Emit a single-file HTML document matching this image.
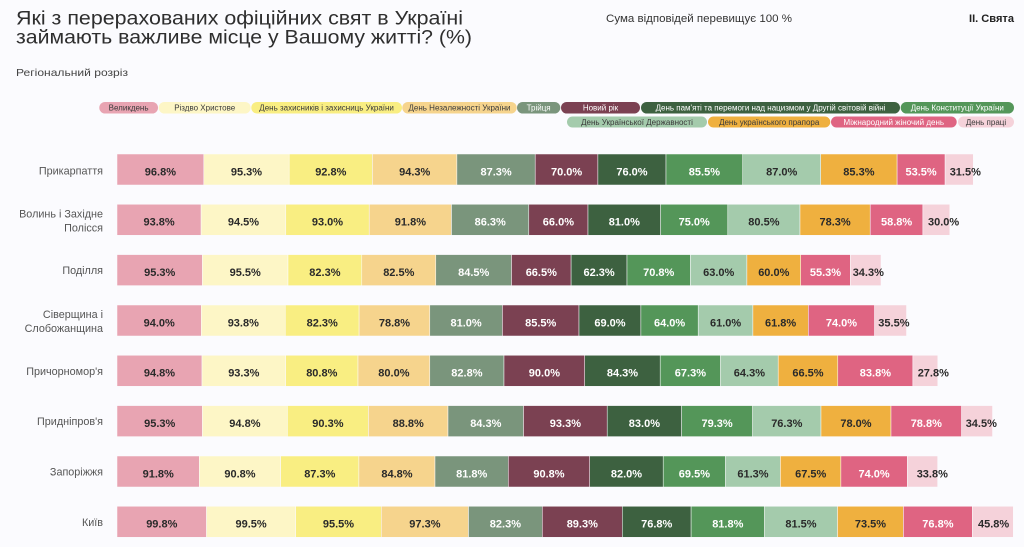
<!DOCTYPE html>
<html>
<head>
<meta charset="utf-8">
<style>
html,body{margin:0;padding:0;background:#fbfbfe;}
svg{display:block;}
.t{font-family:"Liberation Sans",sans-serif;}
.v{font-family:"Liberation Sans",sans-serif;font-size:11px;font-weight:bold;text-anchor:middle;fill:#2a2a2a;}
.w{fill:#ffffff;}
.s{text-anchor:start;}
.rl{font-family:"Liberation Sans",sans-serif;font-size:10.8px;fill:#555;text-anchor:end;}
.lg{font-family:"Liberation Sans",sans-serif;font-size:8px;text-anchor:middle;fill:#3a3a3a;}
.lw{fill:#ffffff;}
</style>
</head>
<body>
<svg width="1024" height="547" viewBox="0 0 1024 547" xmlns="http://www.w3.org/2000/svg">
<rect x="0" y="0" width="1024" height="547" fill="#fbfbfe"/>
<!-- Title -->
<text class="t" x="16" y="24.5" font-size="19" fill="#2e2e2e" textLength="447" lengthAdjust="spacingAndGlyphs">Які з перерахованих офіційних свят в Україні</text>
<text class="t" x="16" y="43.5" font-size="19" fill="#2e2e2e" textLength="456" lengthAdjust="spacingAndGlyphs">займають важливе місце  у Вашому житті? (%)</text>
<text class="t" x="16" y="76" font-size="10.5" fill="#444" textLength="112" lengthAdjust="spacingAndGlyphs">Регіональний розріз</text>
<text class="t" x="606" y="22" font-size="11" fill="#333" textLength="186" lengthAdjust="spacingAndGlyphs">Сума відповідей перевищує 100 %</text>
<text class="t" x="969" y="22" font-size="11" font-weight="bold" fill="#222" textLength="45" lengthAdjust="spacingAndGlyphs">II. Свята</text>

<!-- Legend row 1 -->
<g>
<rect x="99.3" y="102" width="58.7" height="11.5" rx="5.75" fill="#e8a4b2"/>
<text class="lg" x="128.6" y="110.7">Великдень</text>
<rect x="158.7" y="102" width="92" height="11.5" rx="5.75" fill="#fdf6c6"/>
<text class="lg" x="204.7" y="110.7">Різдво Христове</text>
<rect x="251.3" y="102" width="150.7" height="11.5" rx="5.75" fill="#f9ee82"/>
<text class="lg" x="326.6" y="110.7">День захисників і захисниць України</text>
<rect x="402.3" y="102" width="114.4" height="11.5" rx="5.75" fill="#f6d48d"/>
<text class="lg" x="459.5" y="110.7">День Незалежності України</text>
<rect x="517" y="102" width="43.3" height="11.5" rx="5.75" fill="#7a957c"/>
<text class="lg lw" x="538.6" y="110.7">Трійця</text>
<rect x="561" y="102" width="79" height="11.5" rx="5.75" fill="#7b4152"/>
<text class="lg lw" x="600.5" y="110.7">Новий рік</text>
<rect x="641" y="102" width="259" height="11.5" rx="5.75" fill="#3d6140"/>
<text class="lg lw" x="770.5" y="110.7">День пам'яті та перемоги над нацизмом у Другій світовій війні</text>
<rect x="900.7" y="102" width="113.3" height="11.5" rx="5.75" fill="#549659"/>
<text class="lg lw" x="957.3" y="110.7">День Конституції України</text>
</g>
<!-- Legend row 2 -->
<g>
<rect x="567" y="116.5" width="140" height="11" rx="5.5" fill="#a4cbac"/>
<text class="lg" x="637" y="125">День Української Державності</text>
<rect x="708" y="116.5" width="122.3" height="11" rx="5.5" fill="#efb03f"/>
<text class="lg" x="769.2" y="125">День українського прапора</text>
<rect x="831" y="116.5" width="125.7" height="11" rx="5.5" fill="#df6482"/>
<text class="lg lw" x="893.8" y="125">Міжнародний жіночий день</text>
<rect x="958" y="116.5" width="56" height="11" rx="5.5" fill="#f5d2da"/>
<text class="lg" x="986" y="125">День праці</text>
</g>

<!-- Row labels -->
<text class="rl" x="103" y="174.5">Прикарпаття</text>
<text class="rl" x="103" y="217.5">Волинь і Західне</text>
<text class="rl" x="103" y="231.5">Полісся</text>
<text class="rl" x="103" y="274">Поділля</text>
<text class="rl" x="103" y="318">Сіверщина і</text>
<text class="rl" x="103" y="332">Слобожанщина</text>
<text class="rl" x="103" y="374.8">Причорномор'я</text>
<text class="rl" x="103" y="425">Придніпров'я</text>
<text class="rl" x="103" y="475.5">Запоріжжя</text>
<text class="rl" x="103" y="526">Київ</text>

<!-- Row 1 -->
<g stroke="#fbfbfe" stroke-width="0.5">
<rect x="117" y="154" width="86.8" height="31" fill="#e8a4b2"/>
<rect x="203.8" y="154" width="85.4" height="31" fill="#fdf6c6"/>
<rect x="289.2" y="154" width="83.2" height="31" fill="#f9ee82"/>
<rect x="372.4" y="154" width="84.5" height="31" fill="#f6d48d"/>
<rect x="456.9" y="154" width="78.3" height="31" fill="#7a957c"/>
<rect x="535.2" y="154" width="62.7" height="31" fill="#7b4152"/>
<rect x="597.9" y="154" width="68.1" height="31" fill="#3d6140"/>
<rect x="666.0" y="154" width="76.7" height="31" fill="#549659"/>
<rect x="742.7" y="154" width="78.0" height="31" fill="#a4cbac"/>
<rect x="820.7" y="154" width="76.4" height="31" fill="#efb03f"/>
<rect x="897.1" y="154" width="48.0" height="31" fill="#df6482"/>
<rect x="945.1" y="154" width="28.2" height="31" fill="#f5d2da"/>
</g>
<g>
<text class="v" x="160.4" y="175.3">96.8%</text>
<text class="v" x="246.5" y="175.3">95.3%</text>
<text class="v" x="330.8" y="175.3">92.8%</text>
<text class="v" x="414.7" y="175.3">94.3%</text>
<text class="v w" x="496.1" y="175.3">87.3%</text>
<text class="v w" x="566.6" y="175.3">70.0%</text>
<text class="v w" x="632.0" y="175.3">76.0%</text>
<text class="v w" x="704.4" y="175.3">85.5%</text>
<text class="v" x="781.7" y="175.3">87.0%</text>
<text class="v" x="858.9" y="175.3">85.3%</text>
<text class="v w" x="921.1" y="175.3">53.5%</text>
<text class="v s" x="949.7" y="175.3">31.5%</text>
</g>

<!-- Row 2 -->
<g stroke="#fbfbfe" stroke-width="0.5">
<rect x="117" y="204.3" width="84.1" height="31" fill="#e8a4b2"/>
<rect x="201.1" y="204.3" width="84.7" height="31" fill="#fdf6c6"/>
<rect x="285.8" y="204.3" width="83.4" height="31" fill="#f9ee82"/>
<rect x="369.2" y="204.3" width="82.3" height="31" fill="#f6d48d"/>
<rect x="451.5" y="204.3" width="77.3" height="31" fill="#7a957c"/>
<rect x="528.8" y="204.3" width="59.2" height="31" fill="#7b4152"/>
<rect x="588.0" y="204.3" width="72.6" height="31" fill="#3d6140"/>
<rect x="660.6" y="204.3" width="67.2" height="31" fill="#549659"/>
<rect x="727.8" y="204.3" width="72.2" height="31" fill="#a4cbac"/>
<rect x="800.0" y="204.3" width="70.2" height="31" fill="#efb03f"/>
<rect x="870.2" y="204.3" width="52.7" height="31" fill="#df6482"/>
<rect x="922.9" y="204.3" width="26.9" height="31" fill="#f5d2da"/>
</g>
<g>
<text class="v" x="159.1" y="225.6">93.8%</text>
<text class="v" x="243.5" y="225.6">94.5%</text>
<text class="v" x="327.5" y="225.6">93.0%</text>
<text class="v" x="410.4" y="225.6">91.8%</text>
<text class="v w" x="490.2" y="225.6">86.3%</text>
<text class="v w" x="558.4" y="225.6">66.0%</text>
<text class="v w" x="624.3" y="225.6">81.0%</text>
<text class="v w" x="694.2" y="225.6">75.0%</text>
<text class="v" x="763.9" y="225.6">80.5%</text>
<text class="v" x="835.1" y="225.6">78.3%</text>
<text class="v w" x="896.6" y="225.6">58.8%</text>
<text class="v s" x="928" y="225.6">30.0%</text>
</g>

<!-- Row 3 -->
<g stroke="#fbfbfe" stroke-width="0.5">
<rect x="117" y="254.6" width="85.4" height="31" fill="#e8a4b2"/>
<rect x="202.4" y="254.6" width="85.6" height="31" fill="#fdf6c6"/>
<rect x="288.0" y="254.6" width="73.8" height="31" fill="#f9ee82"/>
<rect x="361.8" y="254.6" width="74.0" height="31" fill="#f6d48d"/>
<rect x="435.8" y="254.6" width="75.7" height="31" fill="#7a957c"/>
<rect x="511.5" y="254.6" width="59.6" height="31" fill="#7b4152"/>
<rect x="571.1" y="254.6" width="55.9" height="31" fill="#3d6140"/>
<rect x="627.0" y="254.6" width="63.4" height="31" fill="#549659"/>
<rect x="690.4" y="254.6" width="56.5" height="31" fill="#a4cbac"/>
<rect x="746.9" y="254.6" width="53.8" height="31" fill="#efb03f"/>
<rect x="800.7" y="254.6" width="49.6" height="31" fill="#df6482"/>
<rect x="850.3" y="254.6" width="30.7" height="31" fill="#f5d2da"/>
</g>
<g>
<text class="v" x="159.7" y="275.9">95.3%</text>
<text class="v" x="245.2" y="275.9">95.5%</text>
<text class="v" x="324.9" y="275.9">82.3%</text>
<text class="v" x="398.8" y="275.9">82.5%</text>
<text class="v w" x="473.7" y="275.9">84.5%</text>
<text class="v w" x="541.3" y="275.9">66.5%</text>
<text class="v w" x="599.1" y="275.9">62.3%</text>
<text class="v w" x="658.7" y="275.9">70.8%</text>
<text class="v" x="718.7" y="275.9">63.0%</text>
<text class="v" x="773.8" y="275.9">60.0%</text>
<text class="v w" x="825.5" y="275.9">55.3%</text>
<text class="v s" x="852.7" y="275.9">34.3%</text>
</g>

<!-- Row 4 -->
<g stroke="#fbfbfe" stroke-width="0.5">
<rect x="117" y="305" width="84.3" height="31" fill="#e8a4b2"/>
<rect x="201.3" y="305" width="84.0" height="31" fill="#fdf6c6"/>
<rect x="285.3" y="305" width="73.8" height="31" fill="#f9ee82"/>
<rect x="359.1" y="305" width="70.7" height="31" fill="#f6d48d"/>
<rect x="429.8" y="305" width="72.6" height="31" fill="#7a957c"/>
<rect x="502.4" y="305" width="76.6" height="31" fill="#7b4152"/>
<rect x="579.0" y="305" width="61.9" height="31" fill="#3d6140"/>
<rect x="640.9" y="305" width="57.3" height="31" fill="#549659"/>
<rect x="698.2" y="305" width="54.7" height="31" fill="#a4cbac"/>
<rect x="752.9" y="305" width="55.4" height="31" fill="#efb03f"/>
<rect x="808.3" y="305" width="66.3" height="31" fill="#df6482"/>
<rect x="874.6" y="305" width="31.9" height="31" fill="#f5d2da"/>
</g>
<g>
<text class="v" x="159.2" y="326.3">94.0%</text>
<text class="v" x="243.3" y="326.3">93.8%</text>
<text class="v" x="322.2" y="326.3">82.3%</text>
<text class="v" x="394.5" y="326.3">78.8%</text>
<text class="v w" x="466.1" y="326.3">81.0%</text>
<text class="v w" x="540.7" y="326.3">85.5%</text>
<text class="v w" x="610.0" y="326.3">69.0%</text>
<text class="v w" x="669.6" y="326.3">64.0%</text>
<text class="v" x="725.6" y="326.3">61.0%</text>
<text class="v" x="780.6" y="326.3">61.8%</text>
<text class="v w" x="841.5" y="326.3">74.0%</text>
<text class="v s" x="878.3" y="326.3">35.5%</text>
</g>

<!-- Row 5 -->
<g stroke="#fbfbfe" stroke-width="0.5">
<rect x="117" y="355.3" width="85.0" height="31" fill="#e8a4b2"/>
<rect x="202.0" y="355.3" width="83.6" height="31" fill="#fdf6c6"/>
<rect x="285.6" y="355.3" width="72.4" height="31" fill="#f9ee82"/>
<rect x="358.0" y="355.3" width="71.8" height="31" fill="#f6d48d"/>
<rect x="429.8" y="355.3" width="74.2" height="31" fill="#7a957c"/>
<rect x="504.0" y="355.3" width="80.7" height="31" fill="#7b4152"/>
<rect x="584.7" y="355.3" width="75.5" height="31" fill="#3d6140"/>
<rect x="660.2" y="355.3" width="60.3" height="31" fill="#549659"/>
<rect x="720.5" y="355.3" width="57.7" height="31" fill="#a4cbac"/>
<rect x="778.2" y="355.3" width="59.6" height="31" fill="#efb03f"/>
<rect x="837.8" y="355.3" width="75.1" height="31" fill="#df6482"/>
<rect x="912.9" y="355.3" width="24.9" height="31" fill="#f5d2da"/>
</g>
<g>
<text class="v" x="159.5" y="376.6">94.8%</text>
<text class="v" x="243.8" y="376.6">93.3%</text>
<text class="v" x="321.8" y="376.6">80.8%</text>
<text class="v" x="393.9" y="376.6">80.0%</text>
<text class="v w" x="466.9" y="376.6">82.8%</text>
<text class="v w" x="544.4" y="376.6">90.0%</text>
<text class="v w" x="622.5" y="376.6">84.3%</text>
<text class="v w" x="690.4" y="376.6">67.3%</text>
<text class="v" x="749.4" y="376.6">64.3%</text>
<text class="v" x="808.0" y="376.6">66.5%</text>
<text class="v w" x="875.4" y="376.6">83.8%</text>
<text class="v s" x="917.7" y="376.6">27.8%</text>
</g>

<!-- Row 6 -->
<g stroke="#fbfbfe" stroke-width="0.5">
<rect x="117" y="405.6" width="85.4" height="31" fill="#e8a4b2"/>
<rect x="202.4" y="405.6" width="85.0" height="31" fill="#fdf6c6"/>
<rect x="287.4" y="405.6" width="81.0" height="31" fill="#f9ee82"/>
<rect x="368.4" y="405.6" width="79.6" height="31" fill="#f6d48d"/>
<rect x="448.0" y="405.6" width="75.5" height="31" fill="#7a957c"/>
<rect x="523.5" y="405.6" width="83.7" height="31" fill="#7b4152"/>
<rect x="607.2" y="405.6" width="74.4" height="31" fill="#3d6140"/>
<rect x="681.6" y="405.6" width="71.0" height="31" fill="#549659"/>
<rect x="752.6" y="405.6" width="68.4" height="31" fill="#a4cbac"/>
<rect x="821.0" y="405.6" width="70.0" height="31" fill="#efb03f"/>
<rect x="891.0" y="405.6" width="70.6" height="31" fill="#df6482"/>
<rect x="961.6" y="405.6" width="30.9" height="31" fill="#f5d2da"/>
</g>
<g>
<text class="v" x="159.7" y="426.9">95.3%</text>
<text class="v" x="244.9" y="426.9">94.8%</text>
<text class="v" x="327.9" y="426.9">90.3%</text>
<text class="v" x="408.2" y="426.9">88.8%</text>
<text class="v w" x="485.8" y="426.9">84.3%</text>
<text class="v w" x="565.4" y="426.9">93.3%</text>
<text class="v w" x="644.4" y="426.9">83.0%</text>
<text class="v w" x="717.1" y="426.9">79.3%</text>
<text class="v" x="786.8" y="426.9">76.3%</text>
<text class="v" x="856.0" y="426.9">78.0%</text>
<text class="v w" x="926.3" y="426.9">78.8%</text>
<text class="v s" x="965.7" y="426.9">34.5%</text>
</g>

<!-- Row 7 -->
<g stroke="#fbfbfe" stroke-width="0.5">
<rect x="117" y="456" width="82.3" height="31" fill="#e8a4b2"/>
<rect x="199.3" y="456" width="81.4" height="31" fill="#fdf6c6"/>
<rect x="280.7" y="456" width="78.2" height="31" fill="#f9ee82"/>
<rect x="358.9" y="456" width="76.1" height="31" fill="#f6d48d"/>
<rect x="435.0" y="456" width="73.3" height="31" fill="#7a957c"/>
<rect x="508.3" y="456" width="81.4" height="31" fill="#7b4152"/>
<rect x="589.7" y="456" width="73.5" height="31" fill="#3d6140"/>
<rect x="663.2" y="456" width="62.3" height="31" fill="#549659"/>
<rect x="725.5" y="456" width="54.9" height="31" fill="#a4cbac"/>
<rect x="780.4" y="456" width="60.5" height="31" fill="#efb03f"/>
<rect x="840.9" y="456" width="66.4" height="31" fill="#df6482"/>
<rect x="907.3" y="456" width="30.3" height="31" fill="#f5d2da"/>
</g>
<g>
<text class="v" x="158.2" y="477.3">91.8%</text>
<text class="v" x="240.0" y="477.3">90.8%</text>
<text class="v" x="319.8" y="477.3">87.3%</text>
<text class="v" x="397.0" y="477.3">84.8%</text>
<text class="v w" x="471.7" y="477.3">81.8%</text>
<text class="v w" x="549.0" y="477.3">90.8%</text>
<text class="v w" x="626.5" y="477.3">82.0%</text>
<text class="v w" x="694.4" y="477.3">69.5%</text>
<text class="v" x="753.0" y="477.3">61.3%</text>
<text class="v" x="810.7" y="477.3">67.5%</text>
<text class="v w" x="874.1" y="477.3">74.0%</text>
<text class="v s" x="916.7" y="477.3">33.8%</text>
</g>

<!-- Row 8 -->
<g stroke="#fbfbfe" stroke-width="0.5">
<rect x="117" y="506.3" width="89.5" height="31" fill="#e8a4b2"/>
<rect x="206.5" y="506.3" width="89.2" height="31" fill="#fdf6c6"/>
<rect x="295.7" y="506.3" width="85.6" height="31" fill="#f9ee82"/>
<rect x="381.3" y="506.3" width="87.2" height="31" fill="#f6d48d"/>
<rect x="468.5" y="506.3" width="73.8" height="31" fill="#7a957c"/>
<rect x="542.3" y="506.3" width="80.0" height="31" fill="#7b4152"/>
<rect x="622.3" y="506.3" width="68.8" height="31" fill="#3d6140"/>
<rect x="691.1" y="506.3" width="73.4" height="31" fill="#549659"/>
<rect x="764.5" y="506.3" width="73.0" height="31" fill="#a4cbac"/>
<rect x="837.5" y="506.3" width="65.9" height="31" fill="#efb03f"/>
<rect x="903.4" y="506.3" width="68.9" height="31" fill="#df6482"/>
<rect x="972.3" y="506.3" width="41.0" height="31" fill="#f5d2da"/>
</g>
<g>
<text class="v" x="161.8" y="527.6">99.8%</text>
<text class="v" x="251.1" y="527.6">99.5%</text>
<text class="v" x="338.5" y="527.6">95.5%</text>
<text class="v" x="424.9" y="527.6">97.3%</text>
<text class="v w" x="505.4" y="527.6">82.3%</text>
<text class="v w" x="582.3" y="527.6">89.3%</text>
<text class="v w" x="656.7" y="527.6">76.8%</text>
<text class="v w" x="727.8" y="527.6">81.8%</text>
<text class="v" x="801.0" y="527.6">81.5%</text>
<text class="v" x="870.5" y="527.6">73.5%</text>
<text class="v w" x="937.9" y="527.6">76.8%</text>
<text class="v s" x="978" y="527.6">45.8%</text>
</g>
</svg>
</body>
</html>
